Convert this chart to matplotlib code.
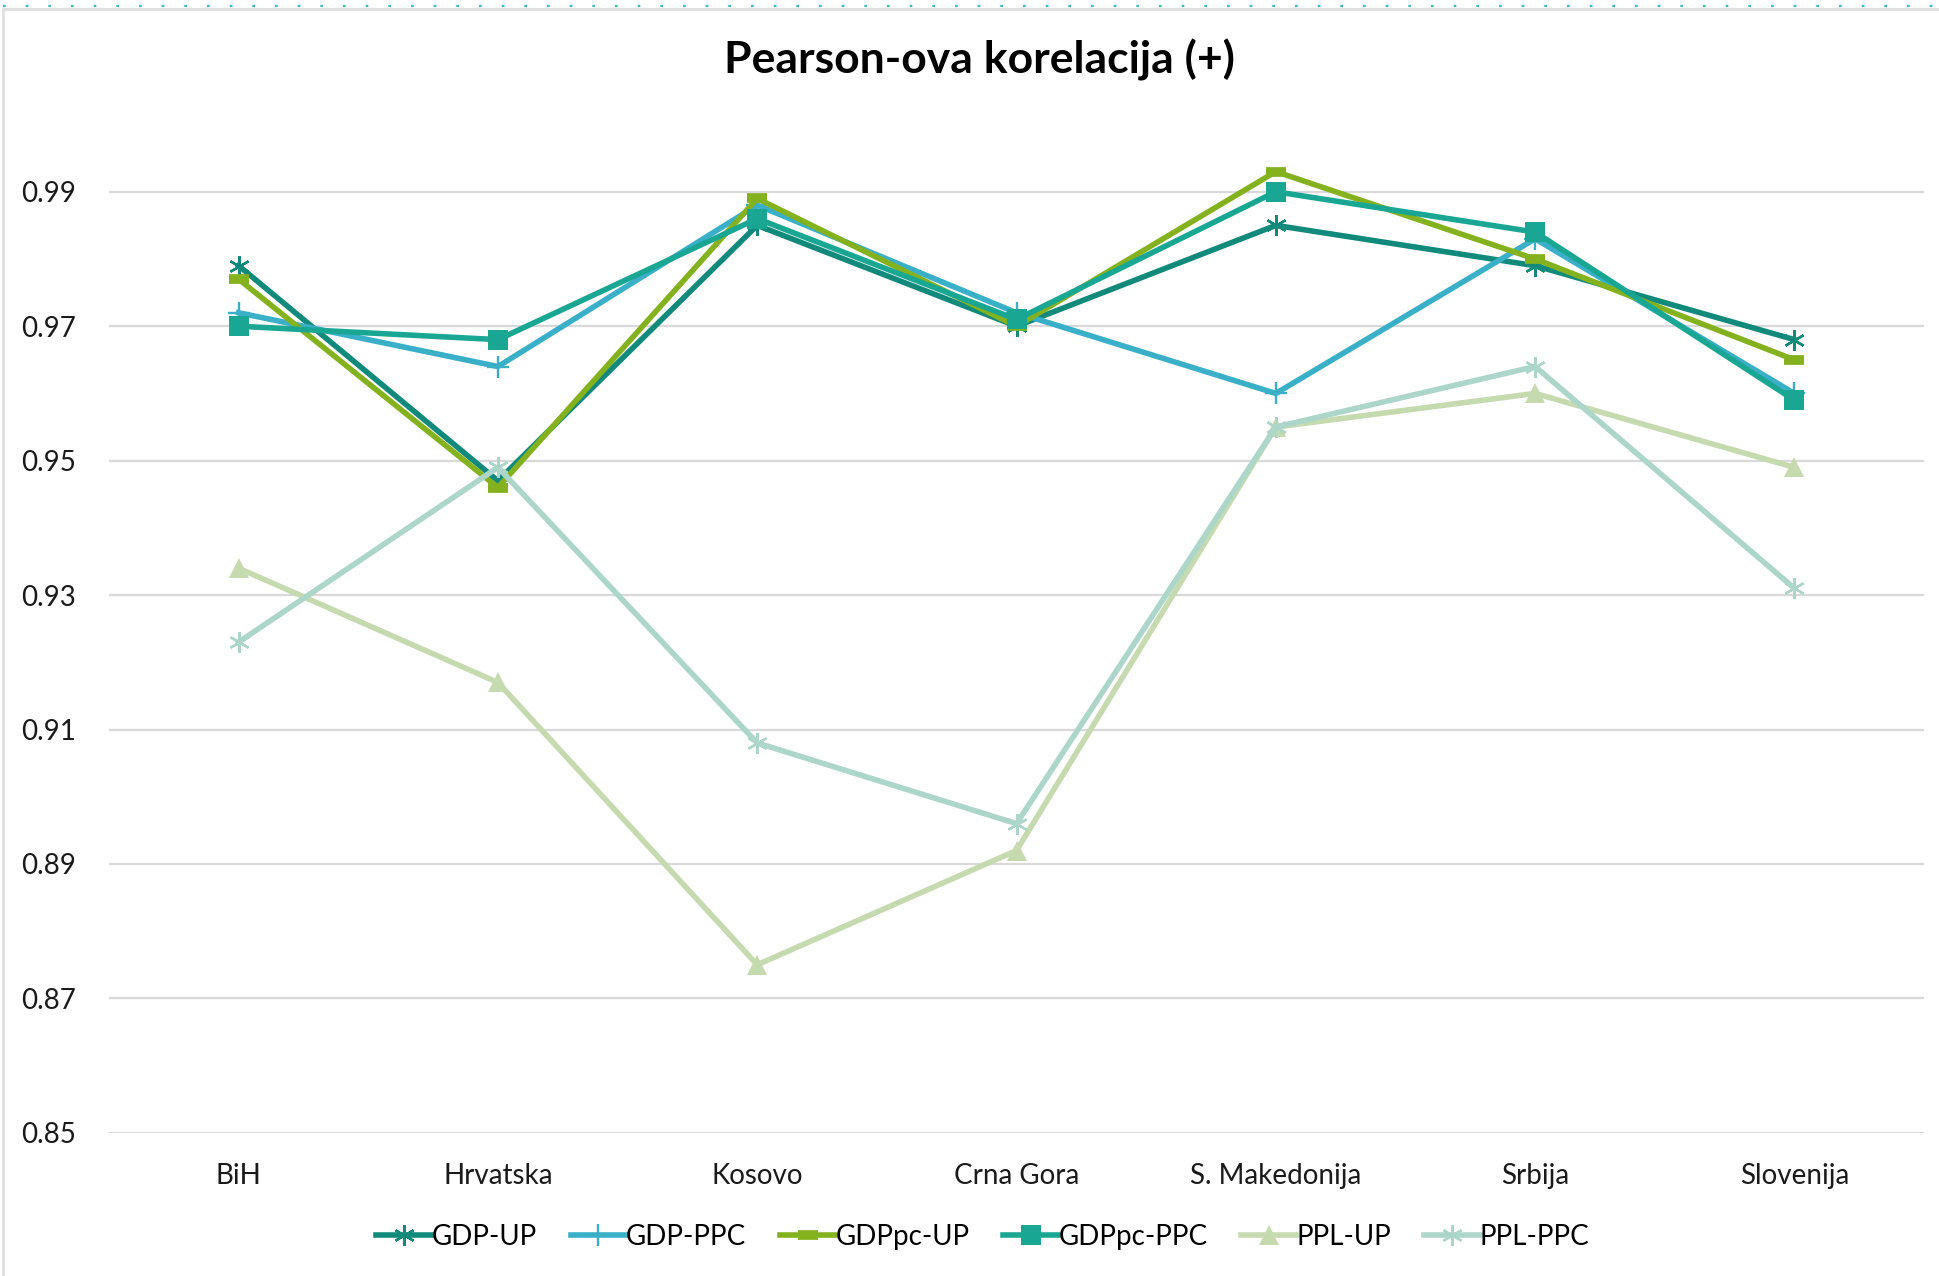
import matplotlib.pyplot as plt
from matplotlib.lines import Line2D

# --- Data ---
countries = ["BiH", "Hrvatska", "Kosovo", "Crna Gora", "S. Makedonija", "Srbija", "Slovenija"]

gdp_up = [0.979, 0.947, 0.985, 0.970, 0.985, 0.979, 0.968]
gdp_ppc = [0.972, 0.964, 0.988, 0.972, 0.960, 0.983, 0.960]
gdppc_up = [0.977, 0.946, 0.989, 0.970, 0.993, 0.980, 0.965]
gdppc_ppc = [0.970, 0.968, 0.986, 0.971, 0.990, 0.984, 0.959]
ppl_up = [0.934, 0.917, 0.875, 0.892, 0.955, 0.960, 0.949]
ppl_ppc = [0.923, 0.949, 0.908, 0.896, 0.955, 0.964, 0.931]

y_ticks = [0.85, 0.87, 0.89, 0.91, 0.93, 0.95, 0.97, 0.99]

plt.rcParams['font.family'] = ['Lato', 'DejaVu Sans']

star = (6, 2, 0)
series = [
    ("GDP-UP", gdp_up, '#128A7B', dict(marker=star, markersize=15, markeredgewidth=1.7)),
    ("GDP-PPC", gdp_ppc, '#3AAFC8', dict(marker='+', markersize=16, markeredgewidth=1.7)),
    ("GDPpc-UP", gdppc_up, '#84B11E', dict(marker='_', markersize=15, markeredgewidth=7)),
    ("GDPpc-PPC", gdppc_ppc, '#19A794', dict(marker='s', markersize=14, markeredgewidth=0)),
    ("PPL-UP", ppl_up, '#C6DAAF', dict(marker='^', markersize=15, markeredgewidth=0)),
    ("PPL-PPC", ppl_ppc, '#ADD6CB', dict(marker=star, markersize=15, markeredgewidth=1.7)),
]

fig = plt.figure(figsize=(19.39, 12.76), dpi=100)
ax = fig.add_axes([0.0562, 0.1122, 0.9361, 0.7902])

x = list(range(len(countries)))
for name, vals, color, mk in series:
    ax.plot(x, vals, color=color, linewidth=4.0, label=name,
            markerfacecolor=color, markeredgecolor=color,
            solid_joinstyle='round', **mk)

ax.set_xlim(-0.5, len(countries) - 0.5)
ax.set_ylim(0.85, 1.0)
ax.set_yticks(y_ticks)
ax.set_yticklabels([f"{v:.2f}" for v in y_ticks])
ax.set_xticks(x)
ax.set_xticklabels(countries)
ax.tick_params(axis='both', length=0, labelsize=20, colors='#1a1a1a')
ax.tick_params(axis='y', pad=24)
ax.tick_params(axis='x', pad=22)

ax.grid(axis='y', color='#D9D9D9', linewidth=1.6)
ax.set_axisbelow(True)
for spine in ax.spines.values():
    spine.set_visible(False)

fig.text(0.505, 1 - 60 / 1276, "Pearson-ova korelacija (+)", ha='center', va='center',
         fontsize=32, fontweight='bold', color='#000000')

leg = fig.legend(loc='center', bbox_to_anchor=(0.507, 1 - 1237 / 1276), ncol=6,
                 frameon=False, fontsize=20, handlelength=2.0, handletextpad=0.0,
                 columnspacing=1.2)

# chart frame and the dotted top line
fig.add_artist(Line2D([3 / 1939, 3 / 1939], [0, 1 - 9 / 1276], transform=fig.transFigure,
                      color='#E0E0E0', linewidth=2.2))
fig.add_artist(Line2D([3 / 1939, 1], [1 - 9 / 1276, 1 - 9 / 1276], transform=fig.transFigure,
                      color='#E0E0E0', linewidth=2.2))
fig.add_artist(Line2D([3 / 1939, 1], [1 - 5.5 / 1276, 1 - 5.5 / 1276], transform=fig.transFigure,
                      color='#3BB5CC', linewidth=1.6, linestyle=(0, (1.2, 9))))

fig.savefig("out.png", dpi=100, facecolor='white')
